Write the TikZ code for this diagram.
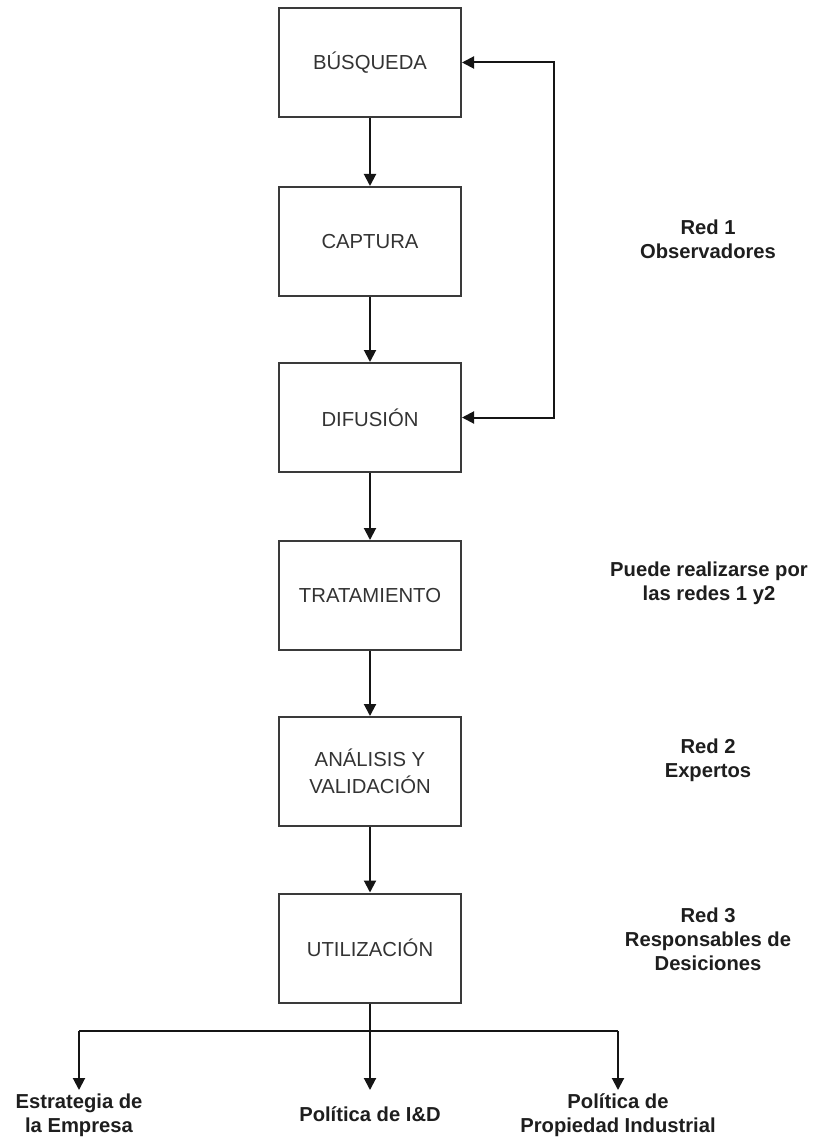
\documentclass[tikz,border=0pt]{standalone}
\usepackage{fontspec}
\setmainfont{Liberation Sans}
\usetikzlibrary{arrows.meta}
\definecolor{boxc}{HTML}{3A3A3A}
\definecolor{txtc}{HTML}{333333}
\definecolor{labc}{HTML}{1E1E1E}
\definecolor{linec}{HTML}{151515}
\begin{document}
\begin{tikzpicture}[x=1pt,y=-1pt,
  box/.style={draw=boxc, line width=2pt, minimum width=182pt, minimum height=109pt, inner sep=0pt,
    font=\fontsize{20.3}{27}\selectfont, text=txtc, align=center},
  lab/.style={font=\bfseries\fontsize{20.2}{24}\selectfont, text=labc, align=center, inner sep=0pt},
  arr/.style={line width=2pt, draw=linec, -{Triangle[length=12pt,width=12pt]}},
  darr/.style={line width=2pt, draw=linec, {Triangle[length=12pt,width=12pt]}-{Triangle[length=12pt,width=12pt]}},
  ln/.style={line width=2pt, draw=linec}]
\useasboundingbox (0,0) rectangle (814,1139);
\node[box] (b) at (370,62.5) {BÚSQUEDA};
\node[box] (c) at (370,241.5) {CAPTURA};
\node[box] (d) at (370,417.5) {DIFUSIÓN};
\node[box] (t) at (370,595.5) {TRATAMIENTO};
\node[box] (a) at (370,771.5) {ANÁLISIS Y\\VALIDACIÓN};
\node[box] (u) at (370,948) {UTILIZACIÓN};

\draw[arr] (b) -- (c);
\draw[arr] (c) -- (d);
\draw[arr] (d) -- (t);
\draw[arr] (t) -- (a);
\draw[arr] (a) -- (u);

\coordinate (fb1) at (554,62.5);
\coordinate (fb2) at (554,417.5);
\draw[darr] (b.east) -- (fb1) -- (fb2) -- (d.east);

\node[lab] (r1) at (708,239) {Red 1\\Observadores};
\node[lab] (r12) at (709,583) {Puede realizarse por\\las redes 1 y2};
\node[lab] (r2) at (708,760) {Red 2\\Expertos};
\node[lab] (r3) at (708,939) {Red 3\\Responsables de\\Desiciones};

\coordinate (j) at (370,1031);
\coordinate (jl) at (79,1031);
\coordinate (jr) at (618,1031);
\coordinate (tl) at (79,1090);
\coordinate (tm) at (370,1090);
\coordinate (tr) at (618,1090);
\draw[ln] (u.south) -- (j);
\draw[ln] (jl) -- (jr);
\draw[arr] (jl) -- (tl);
\draw[arr] (j) -- (tm);
\draw[arr] (jr) -- (tr);

\node[lab] (e) at (79,1115) {Estrategia de\\la Empresa};
\node[lab] (p) at (370,1114) {Política de I\&D};
\node[lab] (pi) at (618,1115) {Política de\\Propiedad Industrial};
\end{tikzpicture}
\end{document}
